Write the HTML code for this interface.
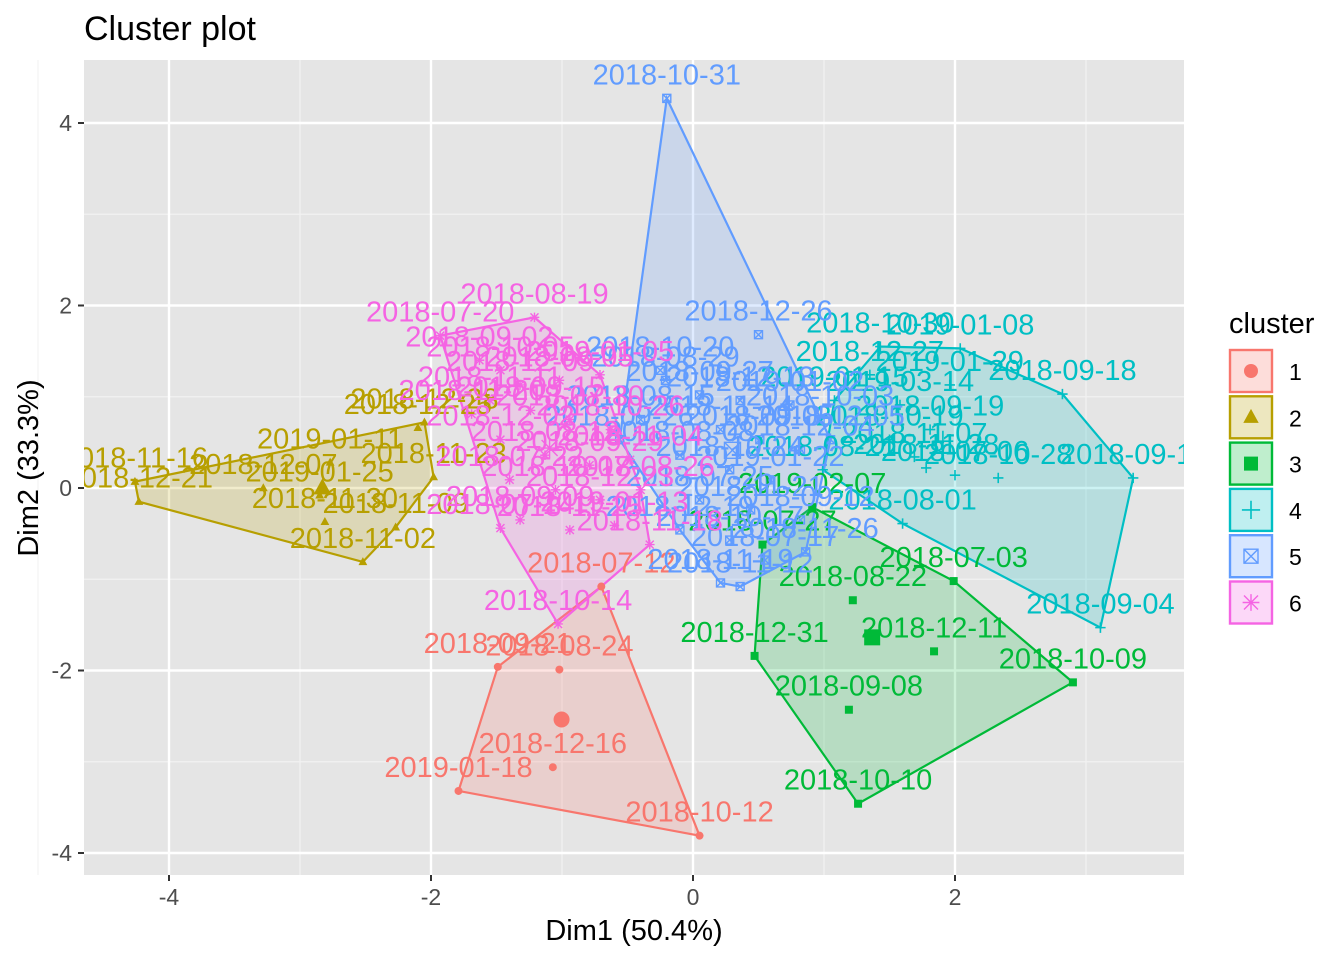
<!DOCTYPE html>
<html><head><meta charset="utf-8"><style>
html,body{margin:0;padding:0;background:#fff}
svg{display:block;font-family:"Liberation Sans",Arial,sans-serif}
</style></head><body>
<svg id="chart" width="1344" height="960" viewBox="0 0 1344 960" xmlns="http://www.w3.org/2000/svg">
<defs><clipPath id="pclip"><rect x="84" y="60" width="1100" height="815"/></clipPath></defs>
<text x="84" y="40" font-size="34" fill="#000">Cluster plot</text>
<rect x="84" y="60" width="1100" height="815" fill="#E5E5E5"/>
<g id="grid"></g>
<g id="axes"></g>
<g clip-path="url(#pclip)">
<g id="hulls"></g>
<g id="points"></g>
<g id="labels"></g>
<g id="centroids"></g>
</g>
<text x="634" y="940" font-size="29" text-anchor="middle">Dim1 (50.4%)</text>
<text transform="translate(38,468) rotate(-90)" font-size="29" text-anchor="middle">Dim2 (33.3%)</text>
<g id="legend">
<text x="1229" y="333" font-size="29">cluster</text>
</g>
</svg>
<script>
const xTicks=[-4,-2,0,2];
const yTicks=[-4,-2,0,2,4];
const xMinor=[-5,-3,-1,1,3];
const yMinor=[-3,-1,1,3];
const clusterNames=["1","2","3","4","5","6"];
const colors=["#F8766D","#B79F00","#00BA38","#00BFC4","#619CFF","#F564E3"];
const c1x=[0.05,-1.79,-1.07,-1.49,-1.02,-0.70];
const c1y=[-3.81,-3.32,-3.06,-1.96,-1.99,-1.08];
const c1l=["2018-10-12","2019-01-18","2018-12-16","2018-09-21","2018-08-24","2018-07-12"];
const c2x=[-4.26,-4.23,-3.28,-2.77,-2.85,-2.81,-2.52,-2.27,-1.98,-2.05,-2.10];
const c2y=[0.07,-0.15,0,0.28,-0.08,-0.37,-0.81,-0.43,0.12,0.72,0.66];
const c2l=["2018-11-16","2018-12-21","2018-12-07","2019-01-11","2019-01-25","2018-11-30","2018-11-02","2018-11-09","2018-11-23","2018-12-28","2018-12-25"];
const c3x=[2.90,1.26,0.47,1.19,1.84,1.22,1.99,0.91,0.53];
const c3y=[-2.13,-3.46,-1.84,-2.43,-1.79,-1.23,-1.02,-0.21,-0.62];
const c3l=["2018-10-09","2018-10-10","2018-12-31","2018-09-08","2018-12-11","2018-08-22","2018-07-03","2019-02-07","2018-07-27"];
const c4x=[3.36,2.82,3.11,2.33,1.60,1.78,2.04,1.43,1.35,1.96,1.58,1.81,1.69,2.00,1.50,0.99,1.08];
const c4y=[0.11,1.03,-1.53,0.11,-0.39,0.22,1.53,1.55,1.24,1.13,0.91,0.64,0.34,0.14,0.53,0.20,0.96];
const c4l=["2018-09-11","2018-09-18","2018-09-04","2018-10-28","2018-08-01","2018-11-28","2019-01-08","2018-10-30","2018-12-27","2019-01-29","2019-03-14","2018-09-19","2018-11-07","2018-07-06","2018-10-19","2018-08-21","2019-01-15"];
const c5x=[-0.20,0.50,-0.25,-0.21,0.05,0.36,0.74,0.97,0.21,0.51,0.82,-0.10,0.28,0.59,0.05,0.44,0.82,-0.10,0.28,0.86,0.36,0.21,0.55,1.05,-0.40,-0.56];
const c5y=[4.27,1.68,1.29,1.18,1.02,0.96,0.91,0.75,0.64,0.53,0.42,0.36,0.20,0.09,-0.13,-0.24,-0.35,-0.46,-0.57,-0.70,-1.08,-1.04,-0.79,0.53,0.75,0.53];
const c5l=["2018-10-31","2018-12-26","2018-10-20","2018-08-29","2018-09-27","2018-12-13","2019-01-02","2018-10-03","2018-11-14","2018-09-05","2018-12-04","2018-08-08","2018-10-24","2019-01-22","2018-07-25","2018-11-21","2018-09-12","2018-12-19","2018-10-17","2018-11-26","2018-11-12","2018-11-19","2018-07-17","2018-12-05","2018-08-15","2018-09-26"];
const c6x=[-1.93,-1.21,-1.69,-1.63,-1.47,-1.32,-1.02,-0.71,-1.55,-1.24,-0.94,-0.63,-1.47,-1.13,-0.79,-0.48,-1.40,-1.05,-0.71,-0.40,-1.32,-0.94,-0.60,-0.33,-1.03,-1.47];
const c6y=[1.67,1.87,0.81,1.40,1.29,1.13,1.18,1.24,0.96,0.85,0.75,0.64,0.53,0.36,0.25,0.31,0.09,-0.02,-0.13,-0.02,-0.35,-0.46,-0.41,-0.62,-1.49,-0.44];
const c6l=["2018-07-20","2018-08-19","2018-11-20","2018-09-02","2018-10-05","2018-12-09","2018-08-05","2019-01-05","2018-11-11","2018-09-15","2018-07-30","2018-10-26","2018-12-02","2018-08-12","2018-09-29","2018-11-04","2018-07-22","2018-10-07","2018-12-23","2018-08-26","2018-09-09","2018-11-25","2019-01-13","2018-11-18","2018-10-14","2018-07-14"];

const NS="http://www.w3.org/2000/svg";
const sx=v=>693+v*131, sy=v=>488-v*91.25;
function mk(tag,parent,attrs){const e=document.createElementNS(NS,tag);for(const k in attrs)e.setAttribute(k,attrs[k]);parent.appendChild(e);return e;}
const grid=document.getElementById('grid'),axes=document.getElementById('axes');
xMinor.forEach(v=>{const l=mk('line',grid,{x1:sx(v),x2:sx(v),y1:60,y2:875,stroke:'#F2F2F2','stroke-width':1.2});});
yMinor.forEach(v=>{const l=mk('line',grid,{x1:84,x2:1184,y1:sy(v),y2:sy(v),stroke:'#F2F2F2','stroke-width':1.2});});
xTicks.forEach(v=>{const l=mk('line',grid,{x1:sx(v),x2:sx(v),y1:60,y2:875,stroke:'#fff','stroke-width':2.4});
 const t=mk('line',axes,{x1:sx(v),x2:sx(v),y1:875,y2:881,stroke:'#333','stroke-width':2});
 const tx=mk('text',axes,{x:sx(v),y:905,'font-size':23,fill:'#4D4D4D','text-anchor':'middle'});tx.textContent=v;});
yTicks.forEach(v=>{const l=mk('line',grid,{x1:84,x2:1184,y1:sy(v),y2:sy(v),stroke:'#fff','stroke-width':2.4});
 const t=mk('line',axes,{x1:78,x2:84,y1:sy(v),y2:sy(v),stroke:'#333','stroke-width':2});
 const tx=mk('text',axes,{x:72,y:sy(v)+8,'font-size':23,fill:'#4D4D4D','text-anchor':'end'});tx.textContent=v;});

function shape(parent,k,cx,cy,r,col){
 let e;
 if(k===0)e=mk('circle',parent,{cx,cy,r,fill:col});
 else if(k===1)e=mk('polygon',parent,{points:`${cx},${cy-r*1.2} ${cx-r*1.1},${cy+r*0.8} ${cx+r*1.1},${cy+r*0.8}`,fill:col});
 else if(k===2)e=mk('rect',parent,{x:cx-r,y:cy-r,width:2*r,height:2*r,fill:col});
 else if(k===3)e=mk('path',parent,{d:`M${cx-r*1.3},${cy}H${cx+r*1.3}M${cx},${cy-r*1.3}V${cy+r*1.3}`,stroke:col,'stroke-width':1.6,fill:'none'});
 else if(k===4)e=mk('path',parent,{d:`M${cx-r},${cy-r}h${2*r}v${2*r}h${-2*r}zM${cx-r},${cy-r}L${cx+r},${cy+r}M${cx+r},${cy-r}L${cx-r},${cy+r}`,stroke:col,'stroke-width':1.4,fill:'none'});
 else e=mk('path',parent,{d:`M${cx-r*1.2},${cy}H${cx+r*1.2}M${cx},${cy-r*1.2}V${cy+r*1.2}M${cx-r},${cy-r}L${cx+r},${cy+r}M${cx+r},${cy-r}L${cx-r},${cy+r}`,stroke:col,'stroke-width':1.4,fill:'none'});
 return e;
}
function hull(pts){pts=pts.slice().sort((a,b)=>a[0]-b[0]||a[1]-b[1]);const cr=(o,a,b)=>(a[0]-o[0])*(b[1]-o[1])-(a[1]-o[1])*(b[0]-o[0]);
 const lo=[],up=[];for(const p of pts){while(lo.length>=2&&cr(lo[lo.length-2],lo[lo.length-1],p)<=0)lo.pop();lo.push(p);}
 for(const p of pts.slice().reverse()){while(up.length>=2&&cr(up[up.length-2],up[up.length-1],p)<=0)up.pop();up.push(p);}
 up.pop();lo.pop();return lo.concat(up);}
const X=[c1x,c2x,c3x,c4x,c5x,c6x],Y=[c1y,c2y,c3y,c4y,c5y,c6y],L=[c1l,c2l,c3l,c4l,c5l,c6l];
const gH=document.getElementById('hulls'),gP=document.getElementById('points'),gL=document.getElementById('labels'),gC=document.getElementById('centroids');
for(let k=0;k<6;k++){
 const pts=X[k].map((v,i)=>[sx(v),sy(Y[k][i])]);
 const h=hull(pts);
 const pg=mk('polygon',gH,{points:h.map(p=>p.join(',')).join(' '),fill:colors[k],'fill-opacity':0.2,stroke:colors[k],'stroke-width':2.2});
 
 
}
for(let k=0;k<6;k++){
 X[k].forEach((v,i)=>{
  const e=shape(gP,k,sx(v),sy(Y[k][i]),4,colors[k]);
  
  
  const t=mk('text',gL,{x:sx(v),y:sy(Y[k][i])-14,'font-size':29,fill:colors[k],'text-anchor':'middle'});
  t.textContent=L[k][i];
  
  
 });
 const mx=X[k].reduce((a,b)=>a+b,0)/X[k].length,my=Y[k].reduce((a,b)=>a+b,0)/Y[k].length;
 const c=shape(gC,k,sx(mx),sy(my),8,colors[k]);
 
 
}
const lg=document.getElementById('legend');
for(let k=0;k<6;k++){
 const y0=350+k*46.3;
 const r=mk('rect',lg,{x:1230,y:y0,width:42,height:42,fill:colors[k],'fill-opacity':0.25,stroke:colors[k],'stroke-width':2.4});
 
 
 const s=shape(lg,k,1251,y0+21,7,colors[k]);
 
 
 const t=mk('text',lg,{x:1289,y:y0+30,'font-size':23,fill:'#000'});
 t.textContent=clusterNames[k];
 
 
}
</script>
</body></html>
